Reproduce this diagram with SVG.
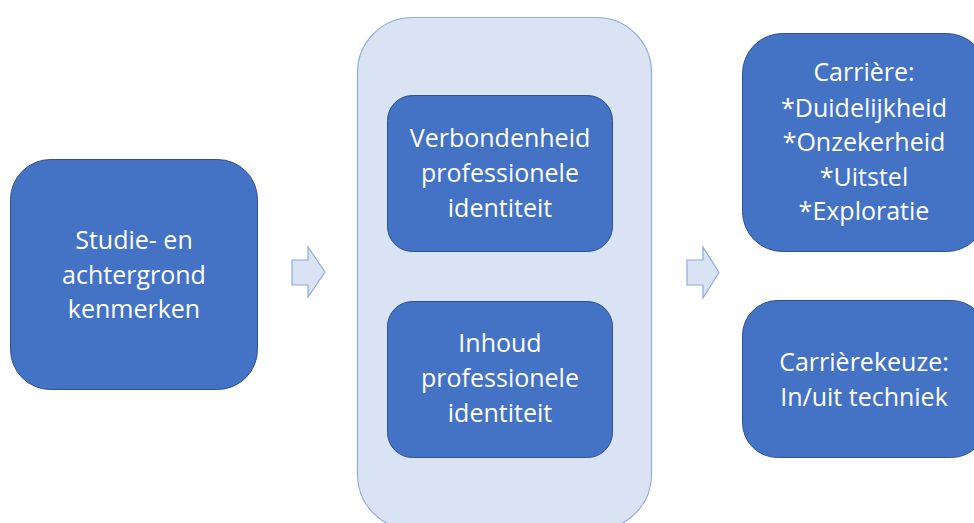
<svg xmlns="http://www.w3.org/2000/svg" width="974" height="523" viewBox="0 0 974 523">
<style>
.box{fill:#4472C4;stroke:#2F528F;stroke-width:1}
.cont{fill:#DAE3F3;stroke:#8FAADC;stroke-width:1.2}
.arr{fill:#DAE3F3;stroke:#8FAADC;stroke-width:1.2}
text{font-family:"Open Sans","Noto Sans",sans-serif;font-size:25px;fill:#ffffff;text-anchor:middle}
</style>
<rect width="974" height="523" fill="#ffffff"/>
<g id="container">
<rect class="cont" x="357.5" y="17.5" width="294" height="512" rx="55" ry="55"/>
</g>
<g id="studie">
<rect class="box" x="10.5" y="159.5" width="247" height="230" rx="40" ry="40"/>
<text x="134" y="249">Studie- en</text>
<text x="134" y="284">achtergrond</text>
<text x="134" y="318">kenmerken</text>
</g>
<g id="verbondenheid">
<rect class="box" x="387.5" y="95.5" width="225" height="156" rx="25" ry="25"/>
<text x="500" y="147">Verbondenheid</text>
<text x="500" y="182">professionele</text>
<text x="500" y="217">identiteit</text>
</g>
<g id="inhoud">
<rect class="box" x="387.5" y="301.5" width="225" height="156" rx="25" ry="25"/>
<text x="500" y="352">Inhoud</text>
<text x="500" y="387">professionele</text>
<text x="500" y="422">identiteit</text>
</g>
<g id="carriere">
<rect class="box" x="742.5" y="33.5" width="244" height="218" rx="40" ry="40"/>
<text x="864" y="81">Carrière:</text>
<text x="864" y="117">*Duidelijkheid</text>
<text x="864" y="151">*Onzekerheid</text>
<text x="864" y="186">*Uitstel</text>
<text x="864" y="220">*Exploratie</text>
</g>
<g id="keuze">
<rect class="box" x="742.5" y="300.5" width="244" height="157" rx="35" ry="35"/>
<text x="864" y="371">Carrièrekeuze:</text>
<text x="864" y="406">In/uit techniek</text>
</g>
<g id="connectors">
<polygon class="arr" points="292,260 308,260 308,247 325,272 308,297 308,285 292,285"/>
<polygon class="arr" points="687,260 703,260 703,247 719,272.5 703,298 703,285 687,285"/>
</g>
</svg>
